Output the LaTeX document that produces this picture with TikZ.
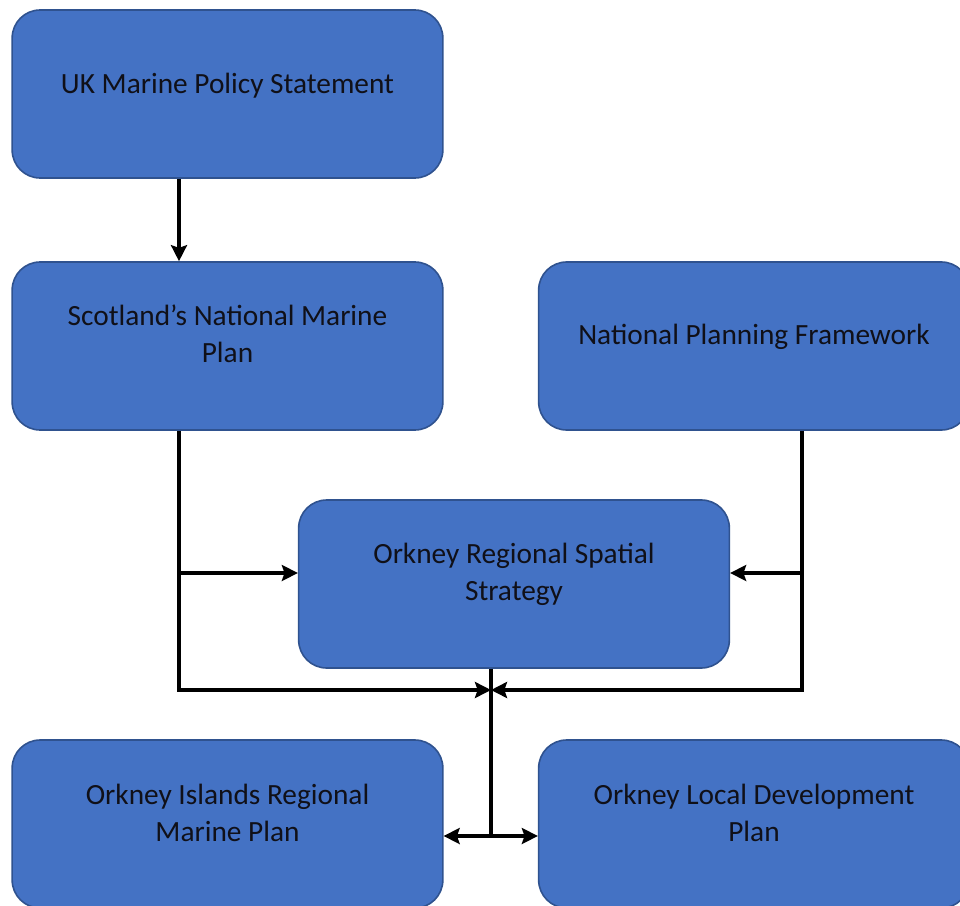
\documentclass[tikz,border=0pt]{standalone}
\usepackage{fontspec}
\setmainfont{Carlito}
\usetikzlibrary{arrows.meta,calc}
\definecolor{boxfill}{HTML}{4472C4}
\definecolor{boxline}{HTML}{2F528F}
\definecolor{txt}{HTML}{101018}
\tikzset{
  box/.style={draw=boxline, line width=1.2pt, fill=boxfill, rounded corners=21pt,
    minimum width=323pt, minimum height=126pt, inner sep=0pt},
  boxtext/.style={text=txt, align=center, font=\fontsize{22}{28}\selectfont},
  conn/.style={line width=2.5pt, black},
  arr/.style={conn, -{Stealth[length=12pt,width=12pt,inset=2pt]}},
  darr/.style={conn, {Stealth[length=12pt,width=12pt,inset=2pt]}-{Stealth[length=12pt,width=12pt,inset=2pt]}}
}
\begin{document}
\begin{tikzpicture}[x=0.75pt,y=-0.75pt]
\useasboundingbox (0,0) rectangle (960,906);
\clip (0,0) rectangle (960,906);
\fill[white] (0,0) rectangle (960,906);

\node[box] (uk)    at (227.5,94)  {};
\node[box] (scot)  at (227.5,346) {};
\node[box] (npf)   at (754,346)   {};
\node[box] (rss)   at (514,584)   {};
\node[box] (oirmp) at (227.5,824) {};
\node[box] (oldp)  at (754,824)   {};

\node[boxtext] (tuk)    at (227.5,86)  {UK Marine Policy Statement};
\node[boxtext] (tscot)  at (227.5,334) {Scotland’s National Marine\\Plan};
\node[boxtext] (tnpf)   at (754,337)   {National Planning Framework};
\node[boxtext] (trss)   at (514,574)   {Orkney Regional Spatial\\Strategy};
\node[boxtext] (toirmp) at (227.5,813) {Orkney Islands Regional\\Marine Plan};
\node[boxtext] (toldp)  at (754,813)   {Orkney Local Development\\Plan};

\coordinate (jL) at (179,690);
\coordinate (jR) at (802,690);
\coordinate (jC) at (491,690);
\coordinate (jB) at (491,836);
\coordinate (bL) at (179,573);
\coordinate (bR) at (802,573);

\draw[arr] (uk.south -| jL) -- (scot.north -| jL);
\draw[arr] (scot.south -| jL) -- (jL) -- (jC);
\draw[arr] (bL) -- (bL -| rss.west);
\draw[arr] (npf.south -| jR) -- (jR) -- (jC);
\draw[arr] (bR) -- (bR -| rss.east);
\draw[conn] (rss.south -| jC) -- (jB);
\draw[darr] (jB -| oirmp.east) -- (jB -| oldp.west);
\end{tikzpicture}
\end{document}
